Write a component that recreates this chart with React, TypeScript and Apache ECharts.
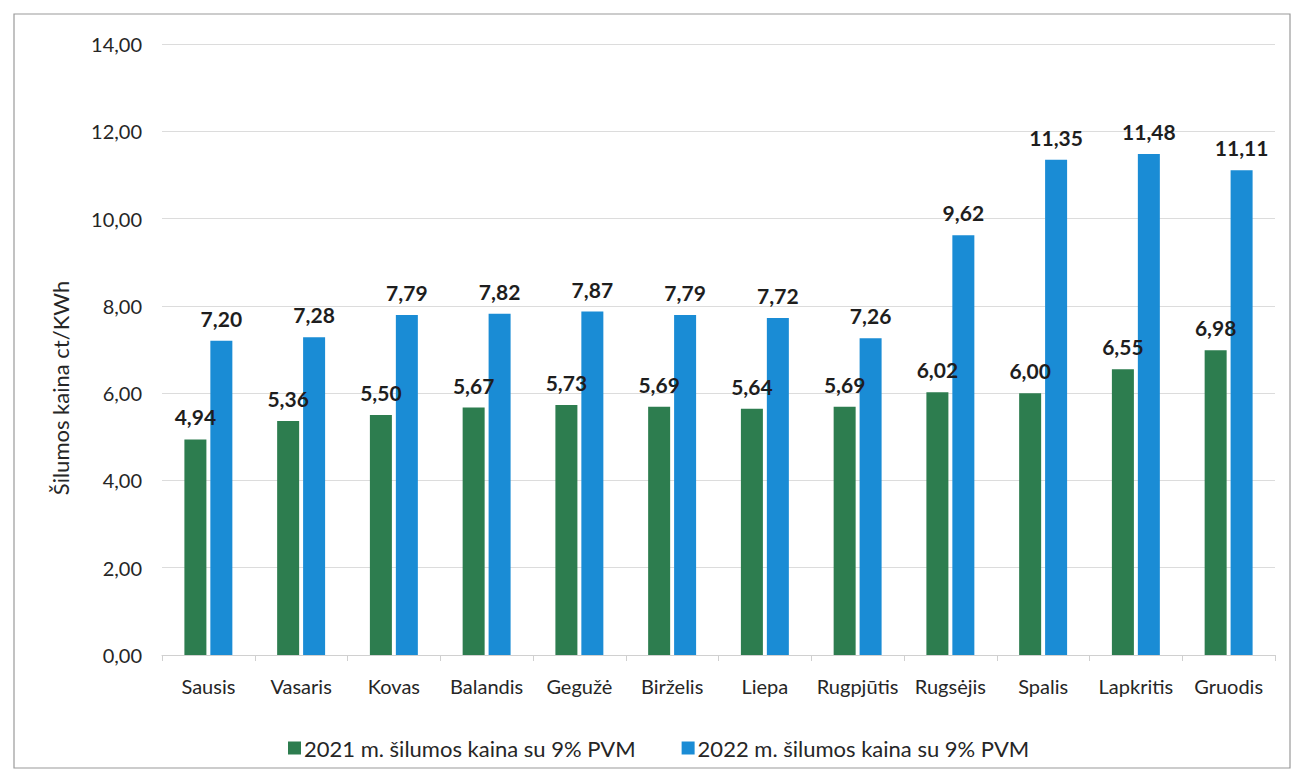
import React, { useEffect, useRef } from "react";
import * as echarts from "echarts";

const months = ["Sausis", "Vasaris", "Kovas", "Balandis", "Gegužė", "Birželis", "Liepa", "Rugpjūtis", "Rugsėjis", "Spalis", "Lapkritis", "Gruodis"];
const price2021 = [4.94, 5.36, 5.5, 5.67, 5.73, 5.69, 5.64, 5.69, 6.02, 6.0, 6.55, 6.98];
const price2022 = [7.2, 7.28, 7.79, 7.82, 7.87, 7.79, 7.72, 7.26, 9.62, 11.35, 11.48, 11.11];
const seriesNames = ["2021 m. šilumos kaina su 9% PVM", "2022 m. šilumos kaina su 9% PVM"];
const axisTitle = "Šilumos kaina ct/KWh";

const fmt = (v: number) => v.toFixed(2).replace(".", ",");
const FONT = "Lato, 'Open Sans', sans-serif";

export default function App() {
  const ref = useRef<HTMLDivElement>(null);
  useEffect(() => {
    if (!ref.current) return;
    const chart = echarts.init(ref.current, undefined, { renderer: "svg" });
    const label = {
      show: true,
      position: "top" as const,
      distance: 12,
      fontFamily: FONT,
      fontWeight: "bold" as const,
      fontSize: 21,
      color: "#1e1e1e",
      formatter: (p: any) => fmt(p.value),
    };
    chart.setOption({
      animation: false,
      backgroundColor: "#ffffff",
      textStyle: { fontFamily: FONT },
      graphic: [
        {
          type: "rect",
          shape: { x: 14, y: 14, width: 1276, height: 754 },
          style: { fill: "none", stroke: "#9a9a9a", lineWidth: 1.2 },
          silent: true,
        },
        {
          type: "text",
          x: 60,
          y: 388,
          rotation: Math.PI / 2,
          style: {
            text: axisTitle,
            fontFamily: FONT,
            fontSize: 22,
            fill: "#262626",
            align: "center",
            verticalAlign: "middle",
          },
          silent: true,
        },
      ],
      grid: { left: 162, right: 26, top: 44, bottom: 124 },
      legend: {
        top: 732,
        left: 283,
        itemWidth: 13,
        itemHeight: 13,
        itemGap: 46,
        icon: "rect",
        textStyle: { fontFamily: FONT, fontSize: 22, color: "#262626", padding: [0, 0, 0, -2] },
        data: seriesNames,
      },
      xAxis: {
        type: "category",
        data: months,
        axisLine: { lineStyle: { color: "#d0d0d0", width: 1 } },
        axisTick: { show: true, alignWithLabel: false, length: 6, lineStyle: { color: "#d0d0d0" } },
        axisLabel: { fontFamily: FONT, fontSize: 20, color: "#262626", margin: 21, interval: 0 },
      },
      yAxis: {
        type: "value",
        min: 0,
        max: 14,
        interval: 2,
        axisLine: { show: false },
        axisTick: { show: false },
        splitLine: { lineStyle: { color: "#dcdcdc", width: 1 } },
        axisLabel: { fontFamily: FONT, fontSize: 20, color: "#262626", margin: 20, formatter: (v: number) => fmt(v) },
      },
      series: [
        {
          name: seriesNames[0],
          type: "bar",
          data: price2021,
          barWidth: 22,
          barGap: "18%",
          itemStyle: { color: "#2d7d4f" },
          label,
        },
        {
          name: seriesNames[1],
          type: "bar",
          data: price2022,
          barWidth: 22,
          barGap: "18%",
          itemStyle: { color: "#1a8cd5" },
          label,
        },
      ],
    });
    return () => chart.dispose();
  }, []);
  return (
    <div
      ref={ref}
      style={{ position: "fixed", left: 0, top: 0, width: 1301, height: 779, background: "#fff" }}
    />
  );
}
